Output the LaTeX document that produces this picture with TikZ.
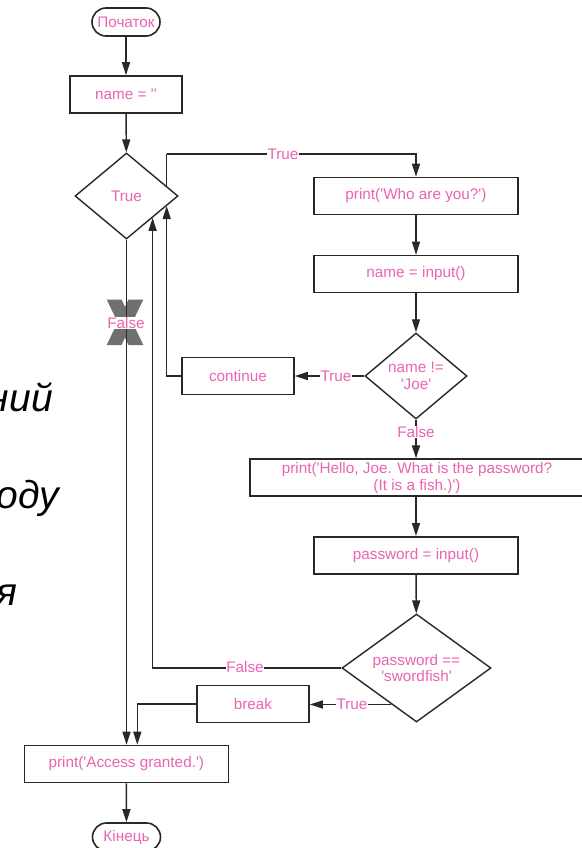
\documentclass[tikz,border=0pt]{standalone}
\usepackage{fontspec}
\setmainfont{Liberation Sans}
\usetikzlibrary{arrows.meta,calc,shapes.geometric}
\definecolor{pk}{RGB}{234,100,178}
\definecolor{ln}{RGB}{40,40,40}
\definecolor{xg}{RGB}{112,112,112}
\newcommand{\q}{\textquotesingle}
\begin{document}
\begin{tikzpicture}[x=1pt,y=-1pt,
  txt/.style={text=pk,font=\fontsize{15.3}{16.8}\selectfont},
  box/.style={txt,draw=ln,line width=1.6pt,rectangle,inner sep=0,minimum height=37,align=center},
  term/.style={box,rounded corners=14pt,minimum width=68,minimum height=28},
  dec/.style={txt,draw=ln,line width=1.4pt,diamond,inner sep=0,align=center},
  arr/.style={draw=ln,line width=1.4pt,-{Triangle[length=13pt,width=8pt]}},
  con/.style={draw=ln,line width=1.4pt},
  lbl/.style={txt,fill=white,inner sep=0.6pt},
  side/.style={font=\fontsize{39}{44}\selectfont\itshape,text=black,inner sep=0,anchor=base east}]
\useasboundingbox (0,0) rectangle (581,848);
\fill[white] (0,0) rectangle (581,848);

% side text fragments
\node[side] (s1) at (53,411) {ний};
\node[side] (s2) at (59,508) {оду};
\node[side] (s3) at (18,605) {я};

% nodes
\node[term] (start) at (126,22) {Початок};
\node[box,minimum width=112] (n0) at (126,94.5) {name = \q\q};
\node[dec,minimum width=103,minimum height=86] (d1) at (126.5,196) {True};
\node[box,minimum width=204] (who) at (416,196) {print(\q Who are you?\q)};
\node[box,minimum width=204] (inp) at (416,274) {name = input()};
\node[dec,inner sep=-4pt,minimum width=102,minimum height=86] (d2) at (416,376) {name !=\\\q Joe\q};
\node[box,minimum width=112] (cont) at (238,376) {continue};
\node[box,minimum width=334] (hello) at (417,477.7) {print(\q Hello, Joe. What is the password?\\(It is a fish.)\q)};
\node[box,minimum width=204] (pw) at (416,555.3) {password = input()};
\node[dec,inner sep=-12pt,minimum width=149,minimum height=108] (d3) at (416.5,668) {password ==\\\q swordfish\q};
\node[box,minimum width=112] (brk) at (253,704) {break};
\node[box,minimum width=204] (acc) at (126.3,764) {print(\q Access granted.\q)};
\node[term] (end) at (126.5,837) {Кінець};

% helper points
\coordinate (d1ur) at ($(d1.east)!0.23!(d1.north)$);
\coordinate (d1lr) at ($(d1.east)!0.23!(d1.south)$);
\coordinate (d1lm) at ($(d1.east)!0.5!(d1.south)$);
\coordinate (d3ll) at ($(d3.south)!0.333!(d3.west)$);
\coordinate (top) at (166,154);
\coordinate (accb) at ($(acc.north)+(11,0)$);

% X mark
\fill[xg] (106.7,299.5) -- (121.5,299.5) -- (143.3,345) -- (128.5,345) -- cycle;
\fill[xg] (128.5,299.5) -- (143.3,299.5) -- (121.5,345) -- (106.7,345) -- cycle;

% connectors
\draw[arr] (start) -- (n0);
\draw[arr] (n0) -- (d1);
\draw[arr] (d1.south) -- (d1.south |- acc.north);
\draw[con] (d1ur) -- (d1ur |- top);
\draw[arr] (d1ur |- top) -| (who.north);
\draw[arr] (who) -- (inp);
\draw[arr] (inp) -- (d2);
\draw[arr] (d2.west) -- (cont.east);
\draw[arr] (cont.west) -| (d1lr);
\draw[arr] (d2.south) -- (hello.north -| d2.south);
\draw[arr] (hello.south -| pw.north) -- (pw.north);
\draw[arr] (pw) -- (d3);
\draw[arr] (d3.west) -| (d1lm);
\draw[arr] (d3ll) -- (d3ll -| brk.east);
\draw[arr] (brk.west) -| (accb);
\draw[arr] (acc) -- (end);

% labels
\node[lbl] (l1) at (283,154) {True};
\node[lbl] (l2) at (126,323) {False};
\node[lbl] (l3) at (336,376) {True};
\node[lbl] (l4) at (416,432) {False};
\node[lbl] (l5) at (245,667) {False};
\node[lbl] (l6) at (352,704) {True};
\end{tikzpicture}
\end{document}
